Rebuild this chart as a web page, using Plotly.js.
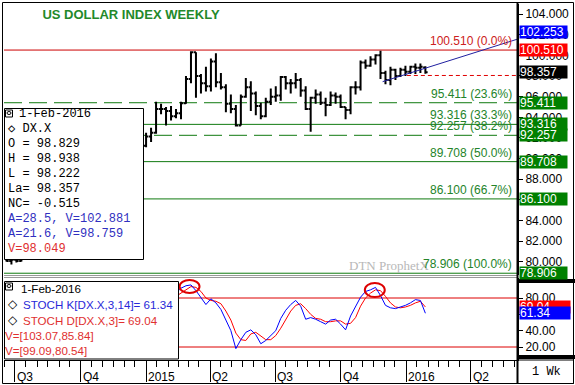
<!DOCTYPE html>
<html><head><meta charset="utf-8">
<script src="https://cdn.plot.ly/plotly-3.0.1.min.js"></script>
<style>html,body{margin:0;padding:0;background:#fff}#chart{width:575px;height:385px}</style>
</head><body><div id="chart"></div>
<script>
// ---------------- DATA ----------------
const weeks = ['2014-06-16','2014-06-23','2014-06-30','2014-07-07','2014-07-14','2014-07-21','2014-07-28','2014-08-04','2014-08-11','2014-08-18','2014-08-25','2014-09-01','2014-09-08','2014-09-15','2014-09-22','2014-09-29','2014-10-06','2014-10-13','2014-10-20','2014-10-27','2014-11-03','2014-11-10','2014-11-17','2014-11-24','2014-12-01','2014-12-08','2014-12-15','2014-12-22','2014-12-29','2015-01-05','2015-01-12','2015-01-19','2015-01-26','2015-02-02','2015-02-09','2015-02-16','2015-02-23','2015-03-02','2015-03-09','2015-03-16','2015-03-23','2015-03-30','2015-04-06','2015-04-13','2015-04-20','2015-04-27','2015-05-04','2015-05-11','2015-05-18','2015-05-25','2015-06-01','2015-06-08','2015-06-15','2015-06-22','2015-06-29','2015-07-06','2015-07-13','2015-07-20','2015-07-27','2015-08-03','2015-08-10','2015-08-17','2015-08-24','2015-08-31','2015-09-07','2015-09-14','2015-09-21','2015-09-28','2015-10-05','2015-10-12','2015-10-19','2015-10-26','2015-11-02','2015-11-09','2015-11-16','2015-11-23','2015-11-30','2015-12-07','2015-12-14','2015-12-21','2015-12-28','2016-01-04','2016-01-11','2016-01-18','2016-01-25','2016-02-01'];
const openP = [80.60,80.40,80.10,80.20,80.10,80.60,81.00,81.35,81.40,81.60,
 82.30,82.75,84.00,84.30,84.80,85.65,86.40,85.80,85.60,85.80,
 86.90,87.55,87.55,88.25,88.40,89.35,88.40,89.60,90.20,91.25,
 92.15,92.50,94.80,94.80,94.60,94.10,94.40,95.35,97.70,100.30,
 98.00,97.30,97.00,99.40,97.40,96.90,95.30,94.80,93.20,96.00,
 96.90,96.30,95.10,94.10,95.50,96.00,96.10,97.90,97.30,97.30,
 97.60,96.60,94.80,95.90,96.20,95.40,95.20,96.10,96.00,95.00,
 94.70,96.90,96.90,99.30,99.00,99.60,100.00,98.30,97.60,98.60,
 98.00,98.60,98.40,98.90,98.80,98.829];
const highP = [80.85,80.55,80.40,80.45,80.90,81.10,81.55,81.65,81.85,82.35,
 82.80,84.00,84.50,84.90,85.90,86.75,86.45,86.20,86.10,87.00,
 88.20,88.20,88.30,88.50,89.55,89.45,89.70,90.30,91.30,92.50,
 93.00,95.50,95.30,95.00,95.10,94.80,95.50,98.00,100.40,100.30,
 98.20,98.90,99.70,100.20,98.30,97.20,96.20,95.20,96.20,97.80,
 97.50,96.50,95.40,95.90,96.80,97.00,98.00,98.00,97.70,98.30,
 97.80,97.00,96.00,96.70,96.50,95.90,96.50,96.40,96.20,95.00,
 97.00,97.50,99.50,99.60,99.90,100.10,100.45,98.50,98.90,98.70,
 98.80,99.00,99.00,99.20,99.20,98.938];
const lowP = [80.30,80.05,79.75,79.95,80.05,80.55,80.90,81.20,81.35,81.55,
 82.15,82.70,83.90,84.05,84.70,85.55,85.30,84.50,85.50,85.60,
 86.80,87.30,87.10,87.60,88.10,88.15,88.20,89.55,89.90,91.10,
 91.60,92.40,94.30,93.20,93.70,93.90,93.80,95.30,97.30,95.90,
 96.30,96.50,96.50,96.90,96.70,94.50,94.40,93.10,93.20,95.90,
 94.60,94.20,93.80,94.00,95.20,95.50,95.60,96.70,96.30,96.80,
 96.00,94.70,92.60,95.30,95.20,94.10,95.10,95.30,94.90,93.80,
 94.30,96.20,96.60,98.70,98.90,99.10,97.70,97.20,97.10,97.60,
 97.90,98.00,98.20,98.20,98.30,98.222];
const closeP = [80.40,80.10,80.20,80.10,80.60,81.00,81.35,81.40,81.60,82.30,
 82.75,84.00,84.30,84.80,85.65,86.40,85.80,85.60,85.80,86.90,
 87.55,87.55,88.25,88.40,89.35,88.40,89.60,90.20,91.25,92.15,
 92.50,94.80,94.80,94.60,94.10,94.40,95.35,97.70,100.30,98.00,
 97.30,97.00,99.40,97.40,96.90,95.30,94.80,93.20,96.00,96.90,
 96.30,95.10,94.10,95.50,96.00,96.10,97.90,97.30,97.30,97.60,
 96.60,94.80,95.90,96.20,95.40,95.20,96.10,96.00,95.00,94.70,
 96.90,96.90,99.30,99.00,99.60,100.00,98.30,97.60,98.60,98.00,
 98.60,98.40,98.90,98.80,98.90,98.357];

const stochWeeks = weeks.slice(34);
const stochK = [80,86,92,95,96,89,80,72,79,74, 66,53,40,18,29,38,41,35,24,28,
 34,40,55,65,72,77,70,54,56,54, 51,48,53,54,48,41,58,70,81,88,
 90,93,83,71,68,67,69,71,74,78, 77,61.34];
const stochD = [78,82,86,91,94,93,88,80,77,76, 73,64,53,37,29,28,36,38,33,29,
 29,34,43,53,64,71,73,67,60,55, 54,51,51,52,52,48,49,56,70,80,
 86,90,89,82,74,69,68,69,71,74, 76,69.04];

const fibValues = [100.510, 95.411, 93.316, 92.257, 89.708, 86.100, 78.906];
const fibPct = ['0.0%','23.6%','33.3%','38.2%','50.0%','66.7%','100.0%'];
const fibDashed = [false, true, false, true, false, false, false];

const quarterTicks = ['2014-07-01','2014-10-01','2015-01-01','2015-04-01','2015-07-01','2015-10-01','2016-01-01','2016-04-01'];
const quarterLabels = ['Q3','Q4','2015','Q2','Q3','Q4','2016','Q2'];
const priceTicks = [80,82,84,86,88,90,92,94,96,98,100,102,104];
const stochTicks = [20,40,60,80];
const stochBands = [80, 20];

const priceMarkers = [102.253, 100.510, 98.357, 95.411, 93.316, 92.257, 89.708, 86.100, 78.906];
const priceMarkerColors = ['#0000ff','#ff0000','#000000','#008000','#008000','#008000','#008000','#008000','#008000'];
const stochMarkers = [69.04, 61.34];
const stochMarkerColors = ['#ff0000','#0000ff'];

const trendX = ['2015-12-03','2016-06-08 12:00'];
const trendY = [97.45, 101.55];
const stopLevel = 98.049;
const stopX = ['2016-01-06','2016-06-08 12:00'];

const legendTop = ['1-Feb-2016','\u25C7 DX.X','O = 98.829','H = 98.938','L = 98.222','La= 98.357','NC= -0.515','A=28.5, V=102.881','A=21.6, V=98.759','V=98.049'];
const legendTopColors = ['#000','#000','#000','#000','#000','#000','#000','#3030c0','#3030c0','#e03030'];
const legendBottom = ['1-Feb-2016','STOCH K[DX.X,3,14]= 61.34','STOCH D[DX.X,3]= 69.04','V=[103.07,85.84]','V=[99.09,80.54]'];
const legendBottomColors = ['#000','#2828d8','#e03030','#e03030','#e03030'];

// ---------------- LAYOUT HELPERS ----------------
const L=4, R=517, T=4, B=360;
const px = x => (x-L)/(R-L);
const py = y => (B-y)/(B-T);
const DAY = 86400000;
const shiftDays = 4;
function shiftDate(s, d){ const t = new Date(s.length===10 ? s+'T00:00:00Z' : s.replace(' ','T')+':00Z').getTime()+d*DAY; return new Date(t).toISOString().slice(0,16).replace('T',' '); }
const tickPos = quarterTicks.map(s=>shiftDate(s, shiftDays));
const minorTicks = [];
for (let y=2014;y<=2016;y++) for (let m=0;m<12;m++) for (const d of [1,16]) {
  if (d===1 && m%3===0) continue;
  const s = y+'-'+String(m+1).padStart(2,'0')+'-'+String(d).padStart(2,'0');
  minorTicks.push(shiftDate(s, shiftDays));
}
const SANS = 'Liberation Sans, Arial, sans-serif';
const MONO = 'Liberation Mono, Courier New, monospace';

const traces = [
  {type:'ohlc', x:weeks, open:openP, high:highP, low:lowP, close:closeP, xaxis:'x', yaxis:'y',
   increasing:{line:{color:'#000',width:2}}, decreasing:{line:{color:'#000',width:2}}, tickwidth:0.45, hoverinfo:'skip', showlegend:false},
  {type:'scatter', mode:'lines', x:stochWeeks, y:stochD, xaxis:'x', yaxis:'y2', line:{color:'#ff0000',width:1}, hoverinfo:'skip', showlegend:false},
  {type:'scatter', mode:'lines', x:stochWeeks, y:stochK, xaxis:'x', yaxis:'y2', line:{color:'#0000ff',width:1}, hoverinfo:'skip', showlegend:false}
];

const shapes = [];
fibValues.forEach((v,i)=>{
  shapes.push({type:'line', xref:'paper', yref:'y', x0:0, x1:1, y0:v, y1:v, layer:'below',
    line:{color: i===0 ? '#cc0000' : '#107a10', width:1, dash: fibDashed[i] ? '18px,7px' : 'solid'}});
});
stochBands.forEach(v=>shapes.push({type:'line', xref:'paper', yref:'y2', x0:0, x1:1, y0:v, y1:v, layer:'below', line:{color:'#dd0000', width:1}}));
shapes.push({type:'line', xref:'x', yref:'y', x0:trendX[0], x1:trendX[1], y0:trendY[0], y1:trendY[1], line:{color:'#2020a0', width:1}});
shapes.push({type:'line', xref:'x', yref:'y', x0:stopX[0], x1:stopX[1], y0:stopLevel, y1:stopLevel, line:{color:'#e00000', width:1, dash:'4px,3px'}});
// red circles (drawn marks on the stochastic panel)
shapes.push({type:'circle', xref:'x', yref:'y2', x0:'2015-02-21', x1:'2015-03-21', y0:86.1, y1:102.0, line:{color:'#dd0000', width:2}});
shapes.push({type:'circle', xref:'x', yref:'y2', x0:'2015-11-08', x1:'2015-12-06', y0:81.2, y1:98.4, line:{color:'#dd0000', width:2}});
// panel separator
[275.5, 277.5].forEach(y=>shapes.push({type:'line', xref:'paper', yref:'paper', x0:px(4), x1:px(517), y0:py(y), y1:py(y), line:{color:'#999', width:1}}));
// right-side black bands
shapes.push({type:'rect', xref:'paper', yref:'paper', x0:px(517), x1:px(575), y0:py(279), y1:py(283), fillcolor:'#000', line:{width:0}, layer:'above'});
shapes.push({type:'rect', xref:'paper', yref:'paper', x0:px(517), x1:px(575), y0:py(355), y1:py(359), fillcolor:'#000', line:{width:0}, layer:'above'});
// vertical axis divider
shapes.push({type:'line', xref:'paper', yref:'paper', x0:px(517.5), x1:px(517.5), y0:py(2), y1:py(384), line:{color:'#000', width:2}});
// outer frame
shapes.push({type:'rect', xref:'paper', yref:'paper', x0:px(2.5), x1:px(573.5), y0:py(2.5), y1:py(383.5), line:{color:'#000', width:1}, fillcolor:'rgba(0,0,0,0)'});
// legend boxes
shapes.push({type:'rect', xref:'paper', yref:'paper', x0:px(4.5), x1:px(143.5), y0:py(108.5), y1:py(259.5), fillcolor:'#fff', line:{color:'#000', width:1}, layer:'above'});
shapes.push({type:'rect', xref:'paper', yref:'paper', x0:px(4.5), x1:px(178.5), y0:py(281.5), y1:py(359), fillcolor:'#fff', line:{color:'#000', width:1}, layer:'above'});
// legend icons
[[110,117],[283,290]].forEach(([a,b])=>{
  shapes.push({type:'rect', xref:'paper', yref:'paper', x0:px(5.5), x1:px(12.5), y0:py(a), y1:py(b), line:{color:'#000', width:1}, layer:'above'});
  shapes.push({type:'circle', xref:'paper', yref:'paper', x0:px(7), x1:px(11), y0:py(a+1.5), y1:py(b-2.5), line:{color:'#000', width:1}, layer:'above'});
});

const ann = [];
// watermark
ann.push({xref:'paper', yref:'paper', x:px(347), y:py(265), xanchor:'left', yanchor:'middle', text:'DTN ProphetX', showarrow:false, font:{family:'Liberation Serif, serif', size:13, color:'#b8b8b8'}});
// fib labels
fibValues.forEach((v,i)=>{
  ann.push({xref:'paper', yref:'y', x:1, y:v, xanchor:'right', yanchor:'bottom', xshift:-3, yshift:0, showarrow:false,
    text: v.toFixed(3)+' ('+fibPct[i]+')', font:{family:SANS, size:12, color: i===0 ? '#cc2020' : '#24842a'}});
});
// right axis value boxes
priceMarkers.forEach((v,i)=>{
  ann.push({xref:'paper', yref:'y', x:1, y:v, xanchor:'left', yanchor:'middle', xshift:2, showarrow:false, text:v.toFixed(3),
    bgcolor:priceMarkerColors[i], borderpad:0, width:47, height:12, align:'left', font:{family:SANS, size:12, color:'#fff'}});
});
stochMarkers.forEach((v,i)=>{
  ann.push({xref:'paper', yref:'y2', x:1, y:v, xanchor:'left', yanchor:'middle', xshift:2, showarrow:false, text:v.toFixed(2),
    bgcolor:stochMarkerColors[i], borderpad:0, width:50, height:12, align:'left', font:{family:SANS, size:12, color:'#fff'}});
});
// quarter labels
tickPos.forEach((t,i)=>{
  ann.push({xref:'x', yref:'paper', x:t, y:py(377), xanchor:'left', yanchor:'middle', xshift:0, showarrow:false, text:quarterLabels[i], font:{family:SANS, size:12, color:'#000'}});
});
// interval box
ann.push({xref:'paper', yref:'paper', x:px(546), y:py(372), xanchor:'center', yanchor:'middle', showarrow:false, text:'1 Wk', font:{family:MONO, size:12, color:'#000'}});
shapes.push({type:'rect', xref:'paper', yref:'paper', x0:px(517.5), x1:px(573.5), y0:py(360), y1:py(383.5), line:{color:'#000', width:1}});
// top legend text
legendTop.forEach((t,i)=>{
  ann.push({xref:'paper', yref:'paper', x:px(i===0?17:6), y:py(114+15*i), xanchor:'left', yanchor:'middle', showarrow:false, text:t, font:{family:MONO, size:12, color:legendTopColors[i]}});
});
// bottom legend text
legendBottom.forEach((t,i)=>{
  const yy = [288,304,320,335,350][i];
  let xx = i===0 ? 19 : (i<3 ? 21 : 3);
  ann.push({xref:'paper', yref:'paper', x:px(xx), y:py(yy), xanchor:'left', yanchor:'middle', showarrow:false, text:t, font:{family:SANS, size:11.6, color:legendBottomColors[i]}});
  if (i===1 || i===2) ann.push({xref:'paper', yref:'paper', x:px(6), y:py(yy), xanchor:'left', yanchor:'middle', showarrow:false, text:'\u25C7', font:{family:SANS, size:12, color:'#000'}});
});

const layout = {
  width:575, height:385, margin:{l:L, r:575-R, t:T, b:385-B}, paper_bgcolor:'#fff', plot_bgcolor:'#fff',
  showlegend:false, font:{family:SANS, size:12, color:'#000'},
  title:{text:'<b>US DOLLAR INDEX WEEKLY</b>', x:131/575, xref:'container', xanchor:'center', y:1-14/385, yref:'container', yanchor:'middle', font:{family:SANS, size:13, color:'#23892a'}},
  xaxis:{type:'date', range:['2014-06-19 14:00','2016-06-08 14:00'], anchor:'y2', showline:true, linecolor:'#000', linewidth:1,
    tickmode:'array', tickvals:tickPos, ticktext:quarterLabels, showticklabels:false, ticks:'outside', ticklen:21, tickcolor:'#000', tickwidth:1,
    minor:{tickmode:'array', tickvals:minorTicks, ticks:'outside', ticklen:6, tickcolor:'#000', tickwidth:1},
    showgrid:false, zeroline:false, rangeslider:{visible:false}, fixedrange:true},
  yaxis:{domain:[py(275),1], range:[78.734,104.968], side:'right', anchor:'x', showline:true, linecolor:'#000', linewidth:2,
    ticks:'outside', ticklen:4, tickcolor:'#000', tickmode:'array', tickvals:priceTicks, tickformat:'.3f',
    tickfont:{family:SANS, size:12, color:'#000'}, showgrid:false, zeroline:false, fixedrange:true},
  yaxis2:{domain:[0,py(278)], range:[4.09,104.49], side:'right', anchor:'x', showline:true, linecolor:'#000', linewidth:2,
    ticks:'outside', ticklen:4, tickcolor:'#000', tickmode:'array', tickvals:stochTicks, tickformat:'.2f',
    tickfont:{family:SANS, size:12, color:'#000'}, showgrid:false, zeroline:false, fixedrange:true},
  shapes:shapes, annotations:ann
};
Plotly.newPlot('chart', traces, layout, {staticPlot:true, displayModeBar:false});
</script></body></html>
